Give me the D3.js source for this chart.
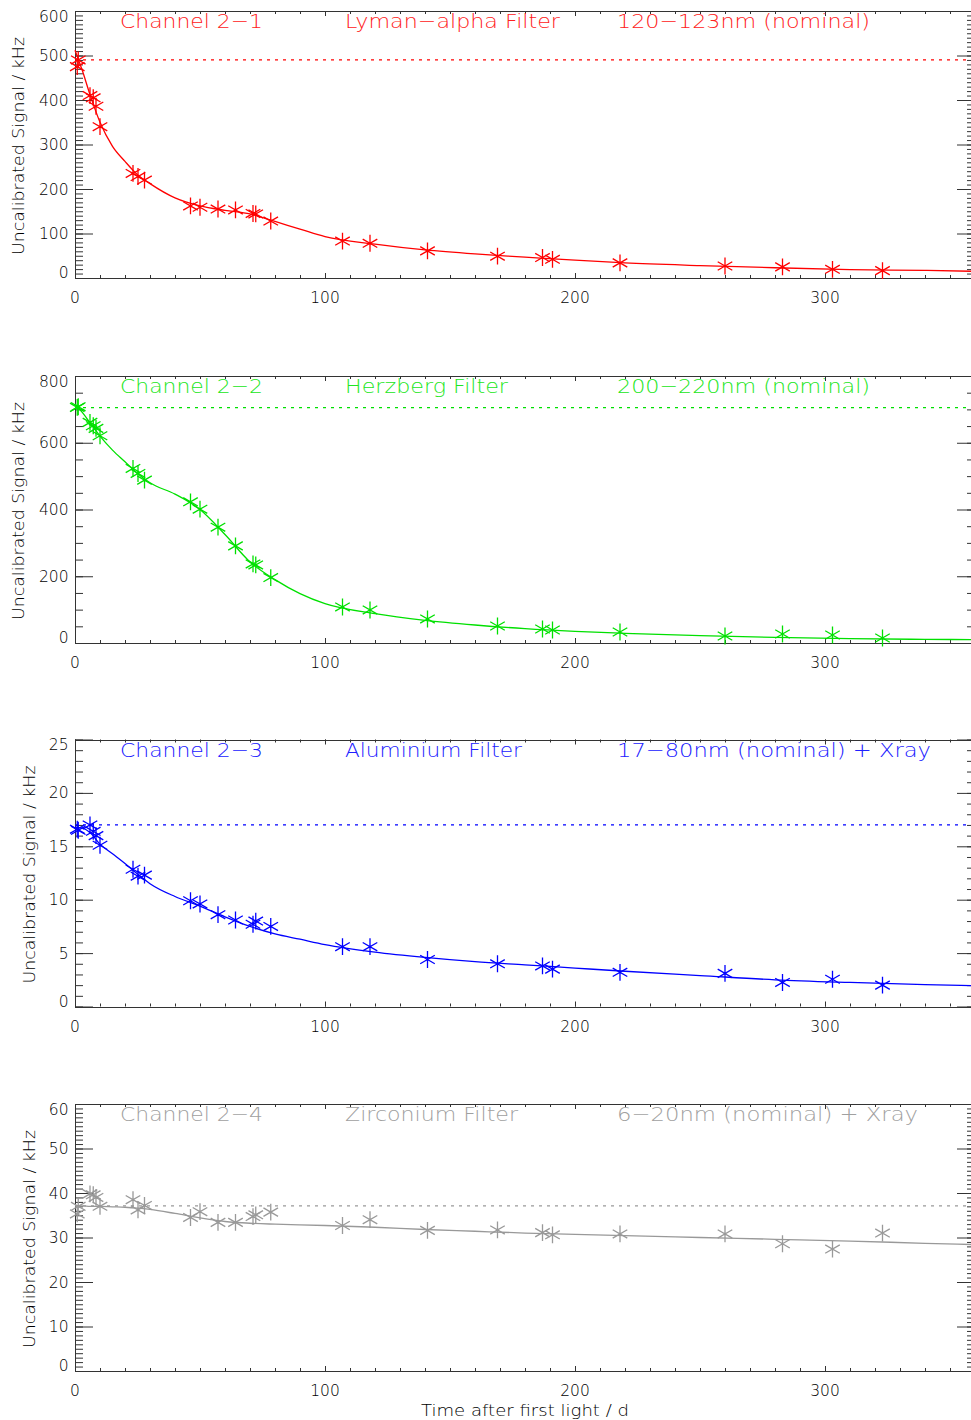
<!DOCTYPE html>
<html>
<head>
<meta charset="utf-8">
<title>Channel 2 signal vs time</title>
<script src="https://d3js.org/d3.v7.min.js"></script>
<style>
  body { margin: 0; background: #fff; }
  svg text { font-family: "DejaVu Sans", sans-serif; font-weight: 200; }
</style>
</head>
<body>
<div id="chart"></div>
<script>
"use strict"

// dias das medidas (depois da primeira luz), iguais para os 4 canais
var dias = [0.9, 1.3, 6, 7.3, 8.4, 10, 23.2, 25.2, 27.8, 46.2, 50, 57.2, 64.2, 71.2, 72.3, 78.3,
            107, 118, 141, 169, 187, 191, 218, 260, 283, 303, 323];

var sinal1 = [475, 490, 410, 405, 386, 340, 235, 228, 220, 162, 159, 155, 153, 145, 144, 128,
              83, 78, 61, 49, 46, 42, 34, 27, 25, 19.5, 16.6];
var sinal2 = [706, 708, 661, 651, 643, 621, 523, 508, 488, 423, 401, 347, 291, 237, 234, 196,
              108, 99, 72, 51, 42, 39, 33, 21, 27, 24, 15];
var sinal3 = [16.6, 16.5, 17.0, 16.4, 16.0, 15.1, 12.85, 12.2, 12.3, 9.9, 9.6, 8.6, 8.1, 7.7, 8.0, 7.5,
              5.6, 5.6, 4.4, 4.0, 3.8, 3.5, 3.2, 3.1, 2.25, 2.55, 2.0];
var sinal4 = [35.3, 37.0, 39.8, 39.6, 39.0, 37.0, 38.5, 36.2, 37.2, 34.5, 35.8, 33.4, 33.4, 34.7, 35.1, 35.7,
              32.7, 34.0, 31.6, 31.7, 31.1, 30.6, 30.8, 30.8, 28.6, 27.4, 31.0];

// curvas ajustadas
var diasAjuste = [0, 3, 6, 10, 15, 20, 25, 30, 40, 50, 60, 70, 80, 90, 100, 120, 140, 160, 180,
                  200, 220, 250, 280, 310, 340, 360];
var ajuste1 = [512, 465, 412, 350, 296, 262, 232, 212, 180, 162, 152, 144, 127, 110, 93, 76, 63, 54, 47,
               40, 34, 28, 23, 19, 17, 15];
var ajuste2 = [716, 690, 660, 620, 578, 543, 508, 480, 446, 400, 325, 243, 190, 148, 118, 88, 68, 54, 43,
               35, 29, 22, 17, 13, 11, 10];
var ajuste3 = [16.8, 16.7, 16.3, 15.2, 14.3, 13.4, 12.4, 11.5, 10.3, 9.4, 8.4, 7.5, 6.8, 6.3, 5.8, 5.1, 4.6, 4.2, 3.9,
               3.6, 3.3, 2.9, 2.5, 2.25, 2.05, 1.95];
var ajuste4 = [37.1, 37.1, 37.0, 37.0, 36.9, 36.8, 36.6, 36.3, 35.4, 34.4, 33.6, 33.2, 33.0, 32.85, 32.7, 32.3, 31.8, 31.4, 31.0,
               30.7, 30.4, 30.0, 29.6, 29.2, 28.7, 28.4];

// nivel inicial (linha pontilhada)
var referencia = [490, 705, 17.0, 37.1];

var canais = ["Channel 2\u22121", "Channel 2\u22122", "Channel 2\u22123", "Channel 2\u22124"];
var filtros = ["Lyman\u2212alpha Filter", "Herzberg Filter", "Aluminium Filter", "Zirconium Filter"];
var bandas = ["120\u2212123nm (nominal)", "200\u2212220nm (nominal)", "17\u221280nm (nominal) + Xray", "6\u221220nm (nominal) + Xray"];

var ticksY = [[0, 100, 200, 300, 400, 500, 600],
              [0, 200, 400, 600, 800],
              [0, 5, 10, 15, 20, 25],
              [0, 10, 20, 30, 40, 50, 60]];
var ticksX = [0, 100, 200, 300];

// layout
var cores = ["#ff0000", "#00e000", "#0000ff", "#999999"];
var coresTexto = ["#ff2020", "#20e620", "#2020ff", "#a0a0a0"];
var topos = [11, 376, 739.5, 1104];
var altura = 267;
var menorY = [10, 50, 1, 1];
var xTituloY = [24, 24, 35, 35];
var largTitulos = [[143, 215, 253], [143, 163, 253], [143, 177, 314], [143, 173, 301]];
var xTitulos = [120, 345, 617];

var series = [sinal1, sinal2, sinal3, sinal4];
var ajustes = [ajuste1, ajuste2, ajuste3, ajuste4];

var svg = d3.select("#chart").append("svg")
    .attr("width", 971)
    .attr("height", 1420);

var x = d3.scaleLinear().domain([0, 360]).range([75, 975]);
var menorX = d3.range(0, 361, 10);

function semDominio(s) { s.select(".domain").remove(); s.selectAll("line").attr("stroke", "#333"); }

function desenhaPainel(i) {
  var topo = topos[i], base = topo + altura;
  var ymax = ticksY[i][ticksY[i].length - 1];
  var y = d3.scaleLinear().domain([0, ymax]).range([base, topo]);
  var menores = d3.range(0, ymax + menorY[i] / 2, menorY[i]);
  var g = svg.append("g");

  // eixos: ticks para dentro nos quatro lados
  g.append("g").attr("transform", "translate(75,0)")
    .call(d3.axisRight(y).tickValues(menores).tickSize(8).tickSizeOuter(0).tickFormat(""))
    .call(semDominio);
  g.append("g").attr("transform", "translate(75,0)")
    .call(d3.axisRight(y).tickValues(ticksY[i]).tickSize(18).tickSizeOuter(0).tickFormat(""))
    .call(semDominio);
  g.append("g").attr("transform", "translate(975,0)")
    .call(d3.axisLeft(y).tickValues(menores).tickSize(8).tickSizeOuter(0).tickFormat(""))
    .call(semDominio);
  g.append("g").attr("transform", "translate(975,0)")
    .call(d3.axisLeft(y).tickValues(ticksY[i]).tickSize(18).tickSizeOuter(0).tickFormat(""))
    .call(semDominio);
  g.append("g").attr("transform", "translate(0," + base + ")")
    .call(d3.axisTop(x).tickValues(menorX).tickSize(3).tickSizeOuter(0).tickFormat(""))
    .call(semDominio);
  g.append("g").attr("transform", "translate(0," + base + ")")
    .call(d3.axisTop(x).tickValues(ticksX).tickSize(5).tickSizeOuter(0).tickFormat(""))
    .call(semDominio);
  g.append("g").attr("transform", "translate(0," + topo + ")")
    .call(d3.axisBottom(x).tickValues(menorX).tickSize(3).tickSizeOuter(0).tickFormat(""))
    .call(semDominio);
  g.append("g").attr("transform", "translate(0," + topo + ")")
    .call(d3.axisBottom(x).tickValues(ticksX).tickSize(5).tickSizeOuter(0).tickFormat(""))
    .call(semDominio);

  g.append("rect")
    .attr("x", 75.5).attr("y", Math.round(topo) + 0.5)
    .attr("width", 900).attr("height", Math.round(altura))
    .attr("fill", "none").attr("stroke", "#333");

  // rotulos do eixo y (os das pontas ficam dentro do quadro)
  g.selectAll("text.ry").data(ticksY[i]).enter().append("text")
    .attr("class", "ry")
    .attr("x", 68.5)
    .attr("y", function(d) { return Math.max(topo + 5, Math.min(base - 5.5, y(d))); })
    .attr("dy", "0.36em")
    .attr("text-anchor", "end")
    .attr("font-size", 15.5)
    .attr("fill", "#000")
    .text(function(d) { return d; });

  g.selectAll("text.rx").data(ticksX).enter().append("text")
    .attr("class", "rx")
    .attr("x", function(d) { return x(d); })
    .attr("y", base + 25)
    .attr("text-anchor", "middle")
    .attr("font-size", 15.5)
    .attr("fill", "#000")
    .text(function(d) { return d; });

  g.append("text")
    .attr("transform", "translate(" + xTituloY[i] + "," + (topo + altura / 2 + 1.5) + ") rotate(-90)")
    .attr("text-anchor", "middle")
    .attr("font-size", 15.5)
    .attr("fill", "#000")
    .attr("textLength", 218)
    .attr("lengthAdjust", "spacingAndGlyphs")
    .text("Uncalibrated Signal / kHz");

  // titulos do painel
  [canais[i], filtros[i], bandas[i]].forEach(function(t, k) {
    g.append("text")
      .attr("x", xTitulos[k])
      .attr("y", topo + 17.3)
      .attr("font-size", 20)
      .attr("fill", coresTexto[i])
      .attr("textLength", largTitulos[i][k])
      .attr("lengthAdjust", "spacingAndGlyphs")
      .text(t);
  });

  // linha pontilhada no nivel inicial
  g.append("line")
    .attr("x1", x(0)).attr("x2", x(360))
    .attr("y1", y(referencia[i])).attr("y2", y(referencia[i]))
    .attr("stroke", cores[i])
    .attr("stroke-width", 1.2)
    .attr("stroke-dasharray", "3,5");

  // curva ajustada
  var linha = d3.line()
    .x(function(d, k) { return x(diasAjuste[k]); })
    .y(function(d) { return y(d); })
    .curve(d3.curveMonotoneX);
  g.append("path")
    .attr("d", linha(ajustes[i]))
    .attr("fill", "none")
    .attr("stroke", cores[i])
    .attr("stroke-width", 1.3);

  // medidas (asteriscos)
  var estrela = d3.symbol(d3.symbolAsterisk, 200);
  g.selectAll("path.estrela").data(series[i]).enter().append("path")
    .attr("class", "estrela")
    .attr("d", estrela)
    .attr("transform", function(d, k) { return "translate(" + x(dias[k]) + "," + y(d) + ")"; })
    .attr("fill", "none")
    .attr("stroke", cores[i])
    .attr("stroke-width", 1.3);
}

for (var i = 0; i < 4; i++) desenhaPainel(i);

svg.append("text")
  .attr("x", 421)
  .attr("y", 1415.5)
  .attr("font-size", 15.5)
  .attr("fill", "#000")
  .attr("textLength", 208)
  .attr("lengthAdjust", "spacingAndGlyphs")
  .text("Time after first light / d");
</script>
</body>
</html>
